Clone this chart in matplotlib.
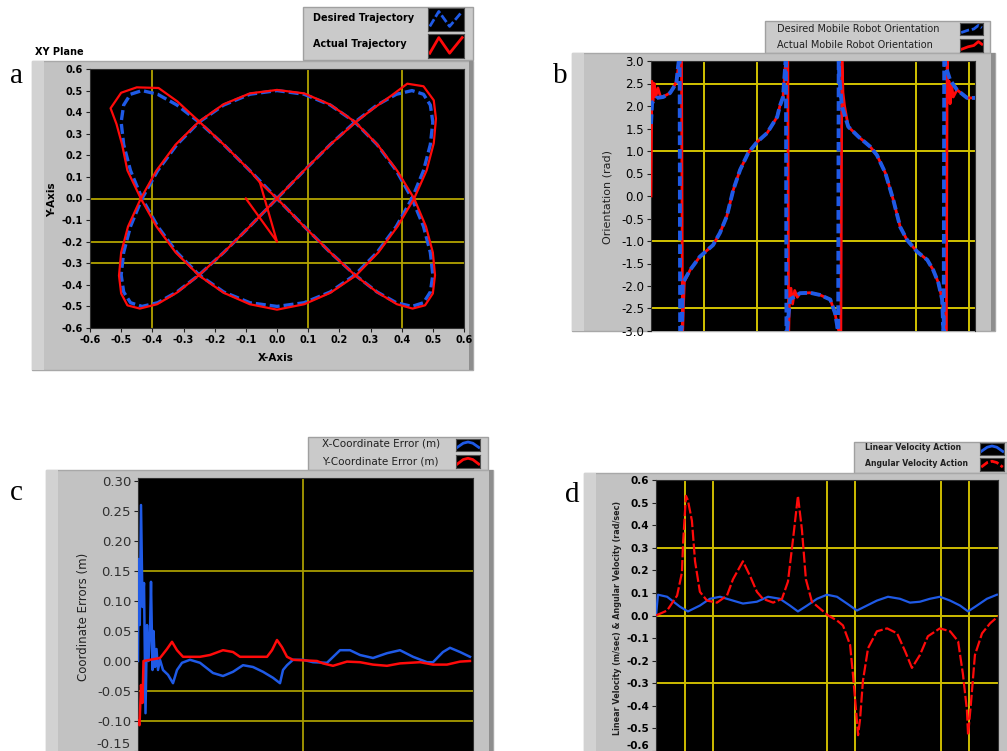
import matplotlib
matplotlib.use('Agg')
import matplotlib.pyplot as plt
from matplotlib.patches import Rectangle

# ---------------- data ----------------
# (a) XY plane: desired and actual trajectory (m)
a_des_x = [0, 0.087, 0.171, 0.25, 0.321, 0.383, 0.433, 0.47, 0.492, 0.5, 0.492, 0.47, 0.433, 0.383, 0.321, 0.25,
           0.171, 0.087, 0, -0.087, -0.171, -0.25, -0.321, -0.383, -0.433, -0.47, -0.492, -0.5, -0.492, -0.47,
           -0.433, -0.383, -0.321, -0.25, -0.171, -0.087,
           0, 0.087, 0.171, 0.25, 0.321, 0.383, 0.433, 0.47, 0.492, 0.5, 0.492, 0.47, 0.433, 0.383, 0.321, 0.25,
           0.171, 0.087, 0, -0.087, -0.171, -0.25, -0.321, -0.383, -0.433, -0.47, -0.492, -0.5, -0.492, -0.47,
           -0.433, -0.383, -0.321, -0.25, -0.171, -0.087, 0]
a_des_y = [0, 0.129, 0.25, 0.354, 0.433, 0.483, 0.5, 0.483, 0.433, 0.354, 0.25, 0.129, 0, -0.129, -0.25, -0.354,
           -0.433, -0.483, -0.5, -0.483, -0.433, -0.354, -0.25, -0.129,
           0, 0.129, 0.25, 0.354, 0.433, 0.483, 0.5, 0.483, 0.433, 0.354, 0.25, 0.129, 0, -0.129, -0.25, -0.354,
           -0.433, -0.483, -0.5, -0.483, -0.433, -0.354, -0.25, -0.129,
           0, 0.129, 0.25, 0.354, 0.433, 0.483, 0.5, 0.483, 0.433, 0.354, 0.25, 0.129, 0, -0.129, -0.25, -0.354,
           -0.433, -0.483, -0.5, -0.483, -0.433, -0.354, -0.25, -0.129, 0]
a_act_x = [-0.10, 0.0, -0.055,
           0, 0.087, 0.171, 0.25, 0.322, 0.385, 0.435, 0.475, 0.50, 0.507, 0.50, 0.478, 0.44, 0.385, 0.322, 0.25,
           0.171, 0.087, 0, -0.087, -0.171, -0.25, -0.325, -0.387, -0.437, -0.478, -0.50, -0.507, -0.50, -0.48,
           -0.44, -0.385, -0.322, -0.25, -0.171, -0.087,
           0, 0.087, 0.171, 0.255, 0.312, 0.37, 0.418, 0.47, 0.503, 0.51, 0.503, 0.48, 0.44, 0.387, 0.325, 0.253,
           0.171, 0.087, 0, -0.087, -0.171, -0.25, -0.325, -0.387, -0.437, -0.48, -0.497, -0.515, -0.534, -0.50,
           -0.45, -0.38, -0.32, -0.25, -0.171, -0.087, -0.055]
a_act_y = [0.0, -0.2, 0.075,
           0, -0.13, -0.25, -0.355, -0.435, -0.49, -0.51, -0.495, -0.44, -0.355, -0.25, -0.13, 0, 0.13, 0.25, 0.355,
           0.435, 0.487, 0.503, 0.487, 0.437, 0.357, 0.25, 0.129, 0, -0.13, -0.25, -0.357, -0.44, -0.495, -0.51,
           -0.49, -0.437, -0.355, -0.25, -0.129,
           0, 0.13, 0.25, 0.357, 0.42, 0.48, 0.532, 0.52, 0.455, 0.37, 0.256, 0.13, 0, -0.129, -0.25, -0.357,
           -0.437, -0.49, -0.515, -0.49, -0.437, -0.357, -0.25, -0.129, 0, 0.13, 0.25, 0.345, 0.418, 0.49, 0.515,
           0.512, 0.45, 0.357, 0.25, 0.129, 0.075]
a_ticks = [-0.6, -0.5, -0.4, -0.3, -0.2, -0.1, 0.0, 0.1, 0.2, 0.3, 0.4, 0.5, 0.6]
a_tick_labels = ["-0.6", "-0.5", "-0.4", "-0.3", "-0.2", "-0.1", "0.0", "0.1", "0.2", "0.3", "0.4", "0.5", "0.6"]

# (b) orientation (rad) vs time
b_t_des = [0.0, 0.2, 1.1, 2.3, 3.6, 4.2, 4.8, 5.1, 5.4, 5.5, 5.85, 6.0, 7.4, 9.2, 11.7, 13.0, 14.3, 15.5, 16.8,
           18.3, 20.0, 21.9, 23.8, 24.3, 24.9, 25.3, 25.45, 25.55, 26.2, 28.1, 30.0, 31.9, 33.8, 34.7, 35.1, 35.3,
           35.4, 35.5, 36.0, 37.2, 39.1, 41.3, 42.6, 44.2, 45.7, 47.0, 48.3, 50.2, 52.1, 53.2, 54.2, 54.9, 55.1,
           55.2, 55.3, 55.5, 56.4, 57.7, 59.6, 61.1]
b_des = [1.6, 2.07, 2.18, 2.2, 2.29, 2.4, 2.53, 2.87, 3.14, -3.14, -2.87, -1.93, -1.64, -1.35, -1.09, -0.82, -0.45,
         0.13, 0.58, 0.95, 1.2, 1.4, 1.76, 2.0, 2.2, 2.87, 3.14, -3.14, -2.3, -2.16, -2.15, -2.2, -2.3, -2.6, -2.87,
         -3.14, 3.14, 2.65, 2.0, 1.54, 1.32, 1.1, 0.91, 0.51, -0.09, -0.69, -0.98, -1.24, -1.42, -1.64, -1.93, -2.3,
         -2.87, -3.14, 3.14, 2.91, 2.58, 2.36, 2.18, 2.18]
b_t_act = [0.0, 0.1, 0.15, 0.35, 0.6, 0.9, 1.3, 1.8, 2.5, 3.6, 4.2, 4.8, 5.2, 5.75, 5.95, 6.1, 6.3, 7.4, 9.2, 11.7,
           13.0, 14.3, 15.5, 16.8, 18.3, 20.0, 21.9, 23.8, 24.3, 24.9, 25.3, 25.8, 25.95, 26.1, 26.4, 26.7, 27.1,
           27.6, 28.1, 30.0, 31.9, 33.8, 34.7, 35.1, 35.8, 36.0, 36.2, 36.5, 37.2, 39.1, 41.3, 42.6, 44.2, 45.7,
           47.0, 48.3, 50.2, 52.1, 53.2, 54.2, 54.9, 55.3, 55.7, 55.85, 56.0, 56.2, 56.4, 56.7, 57.0, 57.7, 59.6,
           61.1]
b_act = [0.0, 1.5, 2.55, 2.1, 2.5, 2.2, 2.4, 2.2, 2.22, 2.29, 2.4, 2.55, 2.9, 3.14, -3.14, -2.5, -1.9, -1.64, -1.35,
         -1.09, -0.82, -0.45, 0.13, 0.58, 0.95, 1.2, 1.4, 1.76, 2.0, 2.2, 2.87, 3.14, -3.14, -2.35, -2.05, -2.4, -2.1,
         -2.25, -2.16, -2.15, -2.2, -2.3, -2.6, -2.87, -3.14, 3.14, 2.3, 2.0, 1.54, 1.32, 1.1, 0.91, 0.51, -0.09,
         -0.69, -0.98, -1.24, -1.42, -1.64, -1.93, -2.3, -2.87, -3.14, 3.14, 2.3, 2.55, 2.05, 2.45, 2.2, 2.36, 2.18,
         2.18]
b_ticks = [3.0, 2.5, 2.0, 1.5, 1.0, 0.5, 0.0, -0.5, -1.0, -1.5, -2.0, -2.5, -3.0]
b_tick_labels = ["3.0", "2.5", "2.0", "1.5", "1.0", "0.5", "0.0", "-0.5", "-1.0", "-1.5", "-2.0", "-2.5", "-3.0"]

# (c) coordinate errors (m)
c_t_x = [0.0, 0.1, 0.35, 0.6, 0.9, 1.2, 1.5, 1.8, 2.1, 2.4, 2.6, 2.9, 3.1, 3.4, 3.7, 4.0, 4.4, 5.0, 6.0, 7.0, 7.8,
         8.8, 10.4, 12.4, 15.0, 17.0, 19.0, 21.0, 23.0, 25.0, 27.0, 28.4, 29.0, 29.8, 31.0, 33.0, 35.0, 37.8, 40.4,
         42.4, 44.4, 47.0, 49.8, 52.4, 55.0, 57.8, 59.0, 61.0, 62.4, 64.4, 66.4]
c_err_x = [0.0, 0.17, 0.06, 0.26, 0.09, 0.13, -0.087, 0.06, 0.0, 0.05, 0.132, -0.015, 0.05, -0.01, 0.02, -0.015,
           0.002, -0.015, -0.023, -0.037, -0.015, -0.003, 0.002, -0.003, -0.02, -0.025, -0.018, -0.007, -0.01,
           -0.018, -0.028, -0.037, -0.015, -0.007, 0.002, 0.002, -0.002, -0.003, 0.018, 0.018, 0.01, 0.005, 0.013,
           0.018, 0.007, -0.002, -0.002, 0.015, 0.022, 0.015, 0.007]
c_t_y = [0.0, 0.3, 0.6, 0.9, 1.1, 2.4, 4.4, 5.8, 6.8, 7.8, 9.0, 12.4, 14.4, 17.0, 19.0, 20.4, 25.8, 26.8, 27.8, 28.8,
         29.8, 31.0, 35.8, 37.0, 39.0, 41.8, 44.4, 47.0, 49.8, 52.4, 56.4, 59.0, 61.8, 64.4, 66.4]
c_err_y = [-0.1, -0.107, -0.04, -0.07, 0.0, 0.002, 0.005, 0.02, 0.032, 0.018, 0.007, 0.007, 0.01, 0.018, 0.015,
           0.007, 0.007, 0.018, 0.035, 0.023, 0.007, 0.002, 0.0, -0.004, -0.008, -0.001, -0.002, -0.006, -0.008,
           -0.004, -0.002, -0.006, -0.006, -0.001, 0.0]
c_ticks = [0.30, 0.25, 0.20, 0.15, 0.10, 0.05, 0.00, -0.05, -0.10, -0.15]
c_tick_labels = ["0.30", "0.25", "0.20", "0.15", "0.10", "0.05", "0.00", "-0.05", "-0.10", "-0.15"]

# (d) linear and angular velocity
d_t_lin = [0, 0.07, 0.39, 0.84, 1.12, 1.54, 1.89, 2.25, 2.70, 3.05, 3.54, 3.93, 4.35, 4.70, 4.98, 5.30, 5.65, 6.00,
           6.35, 6.70, 7.05, 7.40, 7.75, 8.14, 8.56, 8.91, 9.26, 9.61, 9.96, 10.32, 10.67, 10.95, 11.26, 11.61, 11.96]
d_lin = [0.0, 0.092, 0.083, 0.039, 0.018, 0.044, 0.074, 0.083, 0.066, 0.053, 0.061, 0.083, 0.074, 0.044, 0.018,
         0.044, 0.074, 0.092, 0.083, 0.053, 0.022, 0.044, 0.066, 0.083, 0.074, 0.057, 0.061, 0.074, 0.083, 0.066,
         0.044, 0.018, 0.044, 0.074, 0.092]
d_t_ang = [0, 0.39, 0.74, 0.91, 0.95, 1.05, 1.12, 1.26, 1.37, 1.54, 1.79, 2.14, 2.49, 2.70, 3.05, 3.30, 3.54, 3.75,
           4.11, 4.42, 4.63, 4.81, 4.98, 5.12, 5.26, 5.47, 5.75, 6.04, 6.35, 6.56, 6.81, 6.91, 7.02, 7.09, 7.16,
           7.26, 7.44, 7.75, 8.11, 8.46, 8.74, 8.98, 9.26, 9.54, 9.96, 10.32, 10.60, 10.77, 10.91, 10.95, 11.05,
           11.19, 11.44, 11.72, 12.0]
d_ang = [0.0, 0.022, 0.088, 0.19, 0.32, 0.53, 0.51, 0.42, 0.24, 0.105, 0.066, 0.057, 0.088, 0.16, 0.24, 0.175,
         0.105, 0.074, 0.057, 0.074, 0.15, 0.34, 0.53, 0.38, 0.16, 0.061, 0.031, 0.0, -0.022, -0.044, -0.13, -0.26,
         -0.42, -0.53, -0.46, -0.29, -0.145, -0.07, -0.057, -0.079, -0.158, -0.232, -0.175, -0.092, -0.057, -0.07,
         -0.114, -0.26, -0.42, -0.53, -0.39, -0.175, -0.079, -0.035, -0.004]
d_ticks = [0.6, 0.5, 0.4, 0.3, 0.2, 0.1, 0.0, -0.1, -0.2, -0.3, -0.4, -0.5, -0.6]
d_tick_labels = ["0.6", "0.5", "0.4", "0.3", "0.2", "0.1", "0.0", "-0.1", "-0.2", "-0.3", "-0.4", "-0.5", "-0.6"]

# ---------------- figure ----------------
W, H = 1007, 751
fig = plt.figure(figsize=(W / 100, H / 100), dpi=100)
fig.patch.set_facecolor('white')
bg = fig.add_axes([0, 0, 1, 1])
bg.set_xlim(0, W)
bg.set_ylim(H, 0)
bg.axis('off')

BLUE = '#1f5ae6'
RED = '#ff0a0a'


def px_axes(x0, y0, x1, y1):
    return fig.add_axes([x0 / W, 1 - y1 / H, (x1 - x0) / W, (y1 - y0) / H])


def frame(x0, y0, x1, y1, band=12):
    bg.add_patch(Rectangle((x0, y0), x1 - x0, y1 - y0, facecolor='#c2c2c2', edgecolor='#a8a8a8', lw=1))
    bg.add_patch(Rectangle((x0, y0), band, y1 - y0, facecolor='#d2d2d2', edgecolor='none'))
    bg.add_patch(Rectangle((x1 - 4, y0), 4, y1 - y0, facecolor='#8e8e8e', edgecolor='none'))


def legend_box(x0, y0, x1, y1):
    bg.add_patch(Rectangle((x0, y0), x1 - x0, y1 - y0, facecolor='#cacaca', edgecolor='#a0a0a0', lw=1))


def swatch(x0, y0, x1, y1, color, dashed, shape):
    ax = px_axes(x0, y0, x1, y1)
    ax.set_facecolor('black')
    ax.set_xticks([])
    ax.set_yticks([])
    for s in ax.spines.values():
        s.set_color('#505050')
    ax.set_xlim(0, 1)
    ax.set_ylim(0, 1)
    if shape == 'zig':
        xs, ys = [0.05, 0.3, 0.6, 0.95], [0.2, 0.85, 0.2, 0.85]
    elif shape == 'rise':
        xs, ys = [0.05, 0.35, 0.6, 0.8, 0.95], [0.2, 0.4, 0.5, 0.8, 0.6]
    else:
        xs, ys = [0.05, 0.3, 0.5, 0.7, 0.95], [0.3, 0.65, 0.75, 0.65, 0.3]
    ax.plot(xs, ys, color=color, lw=2, ls=(0, (3, 1)) if dashed else '-')


def style(ax, fs, weight='normal', last_bottom=False):
    ax.set_facecolor('black')
    for s in ax.spines.values():
        s.set_color('#303030')
        s.set_linewidth(0.8)
    ax.tick_params(direction='out', length=3, width=0.8, color='#202020', labelsize=fs, pad=2)
    for lab in ax.get_xticklabels() + ax.get_yticklabels():
        lab.set_fontweight(weight)
    if last_bottom:
        ax.get_yticklabels()[-1].set_va('bottom')


# ================= panel a =================
legend_box(303, 7, 473, 60)
frame(32, 61, 473, 370)
bg.text(35, 52, "XY Plane", fontsize=7, fontweight='bold', va='center', ha='left')
bg.text(10, 83, "a", fontsize=21, family='Liberation Serif', va='baseline', ha='left')
bg.text(313, 18, "Desired Trajectory", fontsize=7, fontweight='bold', va='center')
bg.text(313, 44, "Actual Trajectory", fontsize=7, fontweight='bold', va='center')
swatch(428, 8, 464, 31, BLUE, True, 'zig')
swatch(428, 34, 464, 58, RED, False, 'zig')

axa = px_axes(90, 69, 464, 328)
axa.set_xlim(-0.6, 0.6)
axa.set_ylim(-0.6, 0.6)
for v in [-0.4, 0.1, 0.4]:
    axa.axvline(v, color='#b3a300', lw=1.3, zorder=1)
for v in [0.0, -0.2, -0.3]:
    axa.axhline(v, color='#b3a300', lw=1.3, zorder=1)
axa.plot(a_des_x, a_des_y, color=BLUE, lw=2.4, ls=(0, (3, 1.2)), zorder=3, solid_joinstyle='round')
axa.plot(a_act_x, a_act_y, color=RED, lw=1.6, zorder=4, solid_joinstyle='round')
axa.set_xticks(a_ticks)
axa.set_xticklabels(a_tick_labels)
axa.set_yticks(a_ticks)
axa.set_yticklabels(a_tick_labels)
style(axa, 7, 'bold')
bg.text(276, 358, "X-Axis", fontsize=7.5, fontweight='bold', ha='center', va='center')
bg.text(52, 200, "Y-Axis", fontsize=7.5, fontweight='bold', ha='center', va='center', rotation=90)

# ================= panel b =================
legend_box(765, 21, 990, 53)
frame(572, 53, 995, 331)
bg.text(553, 83, "b", fontsize=21, family='Liberation Serif', va='baseline', ha='left')
bg.text(777, 29, "Desired Mobile Robot Orientation", fontsize=7, va='center', color='#202020')
bg.text(777, 45, "Actual Mobile Robot Orientation", fontsize=7, va='center', color='#202020')
swatch(960, 23, 983, 35, BLUE, True, 'rise')
swatch(960, 39, 983, 52, RED, False, 'rise')

axb = px_axes(651, 61, 975, 331)
axb.set_xlim(0, 61.1)
axb.set_ylim(-3.0, 3.0)
for v in [10, 20, 50, 60]:
    axb.axvline(v, color='#d2c300', lw=1.4, zorder=1)
for v in [2.5, 1.0, -1.0, -2.5]:
    axb.axhline(v, color='#d2c300', lw=1.4, zorder=1)
axb.plot(b_t_act, b_act, color=RED, lw=2.0, zorder=3)
axb.plot(b_t_des, b_des, color=BLUE, lw=2.8, ls=(0, (2.5, 1)), zorder=4)
axb.set_xticks([])
axb.set_yticks(b_ticks)
axb.set_yticklabels(b_tick_labels)
axb.spines['bottom'].set_visible(False)
style(axb, 8.5)
bg.text(608, 197, "Orientation (rad)", fontsize=8, ha='center', va='center', rotation=90, color='#202020')

# ================= panel c =================
legend_box(308, 437, 488, 470)
frame(46, 470, 493, 760)
bg.text(10, 500, "c", fontsize=21, family='Liberation Serif', va='baseline', ha='left')
bg.text(322, 444, "X-Coordinate Error (m)", fontsize=7.5, va='center', color='#202020')
bg.text(322, 462, "Y-Coordinate Error (m)", fontsize=7.5, va='center', color='#202020')
swatch(456, 439, 480, 451, BLUE, False, 'arc')
swatch(456, 455, 480, 468, RED, False, 'arc')

axc = px_axes(138, 478, 473, 751)
axc.set_xlim(0, 67)
axc.set_ylim(-0.15, 0.305)
axc.axvline(33, color='#a89c00', lw=1.3, zorder=1)
for v in [0.15, -0.05, -0.10]:
    axc.axhline(v, color='#a89c00', lw=1.3, zorder=1)
axc.plot(c_t_x, c_err_x, color=BLUE, lw=1.8, zorder=3)
axc.plot(c_t_y, c_err_y, color=RED, lw=1.8, zorder=4)
axc.set_xticks([])
axc.set_yticks(c_ticks)
axc.set_yticklabels(c_tick_labels)
axc.spines['bottom'].set_visible(False)
style(axc, 9.5, last_bottom=True)
for lab in axc.get_yticklabels():
    lab.set_color('#303030')
bg.text(83, 617, "Coordinate Errors (m)", fontsize=8.5, ha='center', va='center', rotation=90, color='#202020')

# ================= panel d =================
legend_box(854, 442, 1007, 473)
frame(584, 473, 1011, 760)
bg.text(565, 502, "d", fontsize=21, family='Liberation Serif', va='baseline', ha='left')
bg.text(865, 448, "Linear Velocity Action", fontsize=5.6, fontweight='bold', va='center', color='#202020')
bg.text(865, 464, "Angular Velocity Action", fontsize=5.6, fontweight='bold', va='center', color='#202020')
swatch(980, 443, 1004, 455, BLUE, False, 'arc')
swatch(980, 458, 1004, 471, RED, True, 'arc')

axd = px_axes(656, 480, 998, 751)
axd.set_xlim(0, 12)
axd.set_ylim(-0.587, 0.6)
for v in [1, 2, 6, 7, 10, 11]:
    axd.axvline(v, color='#cdbc00', lw=1.4, zorder=1)
for v in [0.3, 0.0, -0.3]:
    axd.axhline(v, color='#cdbc00', lw=1.4, zorder=1)
axd.plot(d_t_lin, d_lin, color=BLUE, lw=1.6, zorder=3)
axd.plot(d_t_ang, d_ang, color=RED, lw=1.6, ls=(0, (5, 1.2)), zorder=4)
axd.set_xticks([])
axd.set_yticks(d_ticks)
axd.set_yticklabels(d_tick_labels)
axd.spines['bottom'].set_visible(False)
style(axd, 7.5, 'bold', last_bottom=True)
bg.text(618, 618, "Linear Velocity (m/sec) & Angular Velocity (rad/sec)", fontsize=5.8, fontweight='bold',
        ha='center', va='center', rotation=90, color='#202020')

fig.savefig('out.png', dpi=100)
